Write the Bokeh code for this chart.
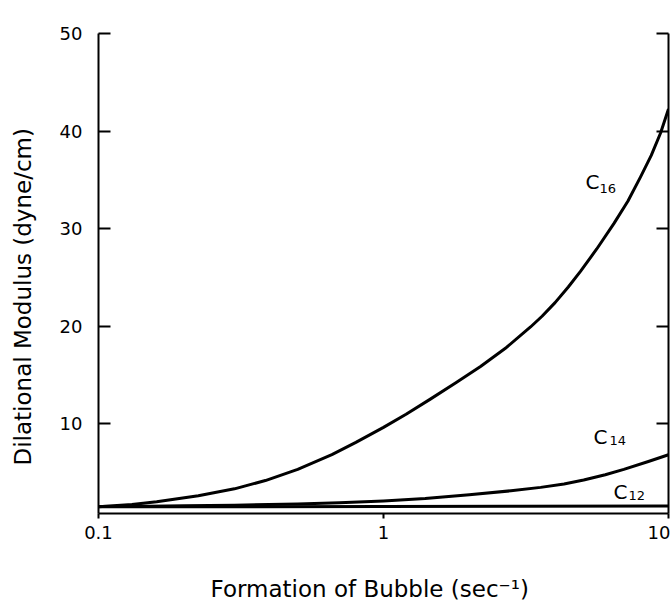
import numpy as np
from bokeh.plotting import figure
from bokeh.models import Range1d, LinearAxis, FixedTicker, Label, BasicTickFormatter, Title
from bokeh.embed import file_html
from bokeh.resources import INLINE

# ---- data ----
rate_c16 = [0.1, 0.131, 0.16, 0.224, 0.3, 0.385, 0.5, 0.659, 0.8, 1.0, 1.2, 1.46, 1.8,
            2.19, 2.7, 3.28, 3.6, 4.0, 4.45, 4.91, 5.6, 6.43, 7.2, 7.98, 8.7, 9.38, 10.0]
mod_c16 = [1.45, 1.7, 1.97, 2.6, 3.3, 4.15, 5.3, 6.8, 8.06, 9.6, 10.95, 12.5, 14.2,
           15.85, 17.8, 19.9, 21.0, 22.4, 24.0, 25.6, 27.9, 30.5, 32.8, 35.3, 37.5, 39.8, 42.25]

rate_c14 = [0.1, 0.15, 0.2, 0.3, 0.5, 0.7, 1.0, 1.4, 2.0, 2.8, 3.56, 4.3, 5.04, 6.0, 6.97, 8.5, 10.0]
mod_c14 = [1.5, 1.52, 1.56, 1.62, 1.75, 1.88, 2.05, 2.3, 2.7, 3.1, 3.45, 3.8, 4.2, 4.75, 5.3, 6.1, 6.8]

rate_c12 = [0.1, 0.3, 1.0, 3.0, 10.0]
mod_c12 = [1.45, 1.47, 1.5, 1.52, 1.55]

x_ticks = [0.1, 1, 10]
y_ticks = [10, 20, 30, 40, 50]

FONT = "DejaVu Sans"

p = figure(width=670, height=602, x_axis_type="log",
           x_range=Range1d(0.1, 10), y_range=Range1d(0.77, 50),
           min_border_left=98, min_border_right=2, min_border_top=33, min_border_bottom=89,
           output_backend="svg", toolbar_location=None)
p.outline_line_color = None
p.xgrid.visible = False
p.ygrid.visible = False
p.background_fill_color = "white"
p.border_fill_color = "white"

for xs, ys in [(rate_c16, mod_c16), (rate_c14, mod_c14), (rate_c12, mod_c12)]:
    p.line(xs, ys, line_color="black", line_width=3, line_join="round")

# bottom axis
xa = p.xaxis[0]
xa.ticker = FixedTicker(ticks=x_ticks)
xa.formatter = BasicTickFormatter()
xa.axis_line_width = 2
xa.axis_line_color = "black"
xa.major_tick_line_width = 2
xa.major_tick_in = 0
xa.major_tick_out = 5
xa.minor_tick_line_color = None
xa.major_label_standoff = 7
xa.major_label_text_font = FONT
xa.major_label_text_font_size = "18px"
xa.major_label_text_color = "black"

# left axis
ya = p.yaxis[0]
ya.ticker = FixedTicker(ticks=y_ticks)
ya.axis_line_width = 2
ya.axis_line_color = "black"
ya.major_tick_line_width = 2
ya.major_tick_in = 12
ya.major_tick_out = 0
ya.minor_tick_line_color = None
ya.major_label_standoff = 16
ya.major_label_text_font = FONT
ya.major_label_text_font_size = "18px"
ya.major_label_text_color = "black"

# right axis (ticks only)
ra = LinearAxis(ticker=FixedTicker(ticks=y_ticks),
                major_label_overrides={float(t): "" for t in y_ticks},
                axis_line_width=2, major_tick_line_width=2,
                major_tick_in=12, major_tick_out=0, major_label_standoff=0,
                minor_tick_line_color=None, major_label_text_font_size="1px")
p.add_layout(ra, "right")

# curve labels
def sub_label(x1, y1, x2, y2, sub):
    p.add_layout(Label(x=x1, y=y1, text="C", text_font=FONT, text_font_size="20px",
                       text_color="black", text_baseline="alphabetic", text_align="left"))
    p.add_layout(Label(x=x2, y=y2, text=sub, text_font=FONT, text_font_size="13px",
                       text_color="black", text_baseline="alphabetic", text_align="left"))

sub_label(5.11, 34.8, 5.73, 34.1, "16")
sub_label(5.46, 8.66, 6.21, 8.3, "14")
sub_label(6.41, 3.0, 7.24, 2.65, "12")

# axis titles
p.add_layout(Title(text="\nFormation of Bubble (sec\u207b\u00b9)", align="left", offset=112,
                   standoff=0, text_line_height=1.28, text_font=FONT, text_font_size="23px",
                   text_font_style="normal", text_color="black"), "below")
p.add_layout(Title(text="Dilational Modulus (dyne/cm)\n", align="left", offset=48,
                   standoff=0, text_line_height=0.8, text_font=FONT, text_font_size="23px",
                   text_font_style="normal", text_color="black"), "left")

open("out.html", "w").write(file_html(p, INLINE))
